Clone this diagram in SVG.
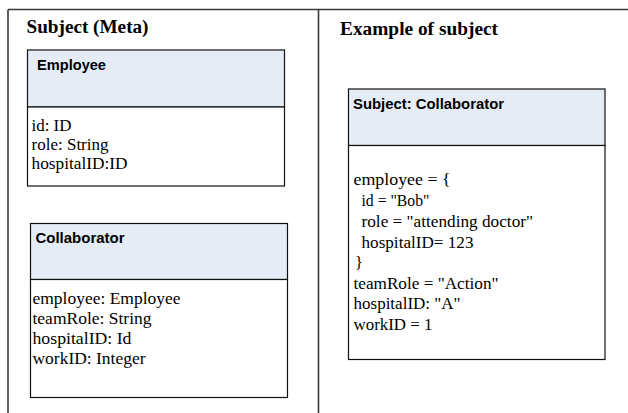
<svg xmlns="http://www.w3.org/2000/svg" width="628" height="413" viewBox="0 0 628 413">
<style>
.frame{stroke:#3a3a3a;stroke-width:1.6;fill:none}
.hdr{fill:#e5ecf6;stroke:#111;stroke-width:1.2}
.body{fill:#fff;stroke:#111;stroke-width:1.2}
.ttl{font-family:"Liberation Serif","Times New Roman",serif;font-weight:bold;font-size:18.5px;fill:#000}
.nm{font-family:"Liberation Sans",Arial,sans-serif;font-weight:bold;font-size:14px;fill:#000}
.tx{font-family:"Liberation Serif","Times New Roman",serif;font-size:16.5px;fill:#000}
</style>
<rect width="628" height="413" fill="#fff"/>
<g id="frame">
<line class="frame" x1="8" y1="9.5" x2="628" y2="9.5"/>
<line class="frame" x1="8" y1="9.5" x2="8" y2="413"/>
<line class="frame" x1="318.5" y1="9.5" x2="318.5" y2="413"/>
<text class="ttl" x="26.5" y="32.5" textLength="122" lengthAdjust="spacingAndGlyphs">Subject (Meta)</text>
<text class="ttl" x="340" y="34.5" textLength="158" lengthAdjust="spacingAndGlyphs">Example of subject</text>
</g>
<g id="employee">
<rect class="hdr" x="27.5" y="50" width="257" height="57"/>
<rect class="body" x="27.5" y="107" width="257" height="79"/>
<text class="nm" x="37" y="70" textLength="69" lengthAdjust="spacingAndGlyphs">Employee</text>
<text class="tx" x="31.5" y="131" textLength="40" lengthAdjust="spacingAndGlyphs">id: ID</text>
<text class="tx" x="31.5" y="150" textLength="77" lengthAdjust="spacingAndGlyphs">role: String</text>
<text class="tx" x="31.5" y="169" textLength="96" lengthAdjust="spacingAndGlyphs">hospitalID:ID</text>
</g>
<g id="collaborator">
<rect class="hdr" x="30.5" y="223.5" width="257" height="56"/>
<rect class="body" x="30.5" y="279.5" width="257" height="118"/>
<text class="nm" x="35.5" y="243" textLength="89" lengthAdjust="spacingAndGlyphs">Collaborator</text>
<text class="tx" x="32.5" y="304" textLength="148" lengthAdjust="spacingAndGlyphs">employee: Employee</text>
<text class="tx" x="32.5" y="324" textLength="119" lengthAdjust="spacingAndGlyphs">teamRole: String</text>
<text class="tx" x="32.5" y="344" textLength="99" lengthAdjust="spacingAndGlyphs">hospitalID: Id</text>
<text class="tx" x="32.5" y="364" textLength="113" lengthAdjust="spacingAndGlyphs">workID: Integer</text>
</g>
<g id="subject-collaborator">
<rect class="hdr" x="348.5" y="89" width="256.5" height="56.5"/>
<rect class="body" x="348.5" y="145.5" width="256.5" height="214"/>
<text class="nm" x="353" y="108.5" textLength="151" lengthAdjust="spacingAndGlyphs">Subject: Collaborator</text>
<text class="tx" x="353.5" y="185" textLength="97" lengthAdjust="spacingAndGlyphs">employee =  {</text>
<text class="tx" x="361.5" y="205.5" textLength="68" lengthAdjust="spacingAndGlyphs">id = "Bob"</text>
<text class="tx" x="361.5" y="226.5" textLength="171.5" lengthAdjust="spacingAndGlyphs">role = "attending doctor"</text>
<text class="tx" x="361.5" y="247.5" textLength="112" lengthAdjust="spacingAndGlyphs">hospitalID= 123</text>
<text class="tx" x="355" y="268">}</text>
<text class="tx" x="353.5" y="288.5" textLength="145" lengthAdjust="spacingAndGlyphs">teamRole = "Action"</text>
<text class="tx" x="353.5" y="309" textLength="107" lengthAdjust="spacingAndGlyphs">hospitalID: "A"</text>
<text class="tx" x="353.5" y="329.5" textLength="79" lengthAdjust="spacingAndGlyphs">workID = 1</text>
</g>
</svg>
